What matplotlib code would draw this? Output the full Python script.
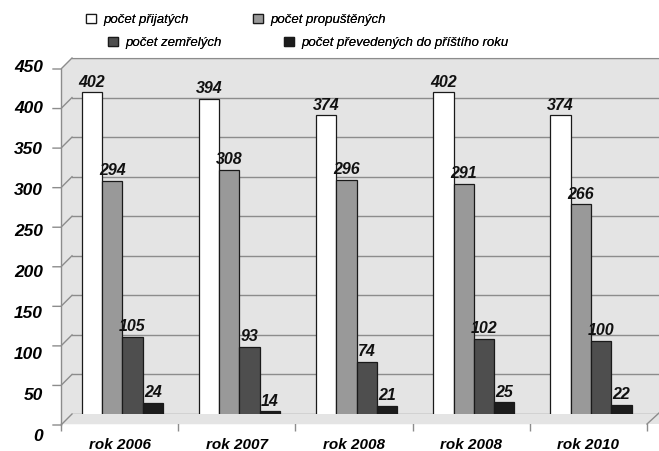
import matplotlib
matplotlib.use("Agg")
import matplotlib.pyplot as plt
from matplotlib.patches import Polygon
from matplotlib.lines import Line2D
import numpy as np

categories = ["rok 2006", "rok 2007", "rok 2008", "rok 2008", "rok 2010"]
series_names = ["počet přijatých", "počet propuštěných", "počet zemřelých",
                "počet převedených do příštího roku"]
prijatych = [402, 394, 374, 402, 374]
propustenych = [294, 308, 296, 291, 266]
zemrelych = [105, 93, 74, 102, 100]
prevedenych = [24, 14, 21, 25, 22]
yticks = list(range(0, 451, 50))

series = [prijatych, propustenych, zemrelych, prevedenych]
colors = ["#ffffff", "#999999", "#4e4e4e", "#1c1c1c"]

FONT = ["Liberation Sans", "DejaVu Sans"]
plt.rcParams["font.family"] = FONT

W, H = 659, 451
fig = plt.figure(figsize=(W / 100, H / 100), dpi=100)
fig.patch.set_facecolor("white")

WALL = "#e4e4e4"
GRID = "#8c8c8c"


def rect(x0, x1, ytop, ybot):
    return [x0 / W, 1 - ybot / H, (x1 - x0) / W, (ybot - ytop) / H]


def fr(x, y):
    return (x / W, 1 - y / H)


# back wall
ax_wall = fig.add_axes(rect(72, 720, 58, 414))
ax_wall.set_facecolor(WALL)
ax_wall.set_ylim(0, 450)
ax_wall.set_xlim(0, 1)
ax_wall.set_yticks(yticks)
ax_wall.set_xticks([])
ax_wall.tick_params(left=False, labelleft=False)
ax_wall.grid(axis="y", color=GRID, linewidth=1.0)
for s in ["left", "right", "bottom"]:
    ax_wall.spines[s].set_visible(False)
ax_wall.spines["top"].set_color(GRID)
ax_wall.set_zorder(0)

# side wall and floor
side = Polygon([fr(61, 69), fr(72, 58), fr(72, 414), fr(61, 424)], closed=True,
               transform=fig.transFigure, facecolor=WALL, edgecolor="none", zorder=0)
floor = Polygon([fr(61, 424), fr(72, 414), fr(720, 414), fr(708, 424)], closed=True,
                transform=fig.transFigure, facecolor=WALL, edgecolor="none", zorder=0)
fig.patches.extend([side, floor])
fig.lines.append(Line2D([61 / W, 61 / W], [1 - 425 / H, 1 - 69 / H],
                        transform=fig.transFigure, color=GRID, lw=1.0))
fig.lines.append(Line2D([647 / W, 659 / W], [1 - 424 / H, 1 - 413 / H],
                        transform=fig.transFigure, color=GRID, lw=1.0))

# tick diagonals
for v in yticks:
    wy = ax_wall.transData.transform((0, v))[1] / H
    dy = 11 / H
    fig.lines.append(Line2D([53 / W, 61 / W, 72 / W], [wy - dy, wy - dy, wy],
                            transform=fig.transFigure, color=GRID, lw=1.0))

# label axis
ax_lab = fig.add_axes(rect(61, 647, 66, 435))
ax_lab.set_ylim(0, 450)
ax_lab.set_yticks(yticks)
ax_lab.set_yticklabels([str(v) for v in yticks], fontsize=12.5,
                       fontweight="bold", fontstyle="italic")
ax_lab.tick_params(axis="y", length=0, pad=13)
ax_lab.set_xticks([])
ax_lab.patch.set_visible(False)
for s in ax_lab.spines.values():
    s.set_visible(False)

# bar axis
ax = fig.add_axes(rect(61, 647, 53, 423))
ax.patch.set_visible(False)
ax.set_xlim(-0.5, 4.5)
ax.set_ylim(0, 450)
x = np.arange(len(categories))
bw = 0.173
start = -0.5 + 0.263
for k, (vals, c, name) in enumerate(zip(series, colors, series_names)):
    bars = ax.bar(x + start + k * bw, vals, width=bw, color=c, edgecolor="#1a1a1a",
                  linewidth=0.9, label=name, zorder=3)
    ax.bar_label(bars, padding=2, fontsize=11.5, fontweight="bold",
                 fontstyle="italic", color="#111111")
ax.set_yticks([])
ax.set_xticks(x)
ax.set_xticklabels(categories, fontsize=11, fontweight="bold", fontstyle="italic")
ax.tick_params(axis="x", length=0, pad=11)
ax.set_xticks(np.arange(-0.5, 5, 1), minor=True)
ax.tick_params(axis="x", which="minor", length=6, color=GRID, width=1.0)
for s in ["left", "right", "top"]:
    ax.spines[s].set_visible(False)
ax.spines["bottom"].set_color(GRID)

# legend entries
handles, labels = ax.get_legend_handles_labels()
positions = [(86, 20), (253, 20), (108, 43), (284, 43)]
for h, l, (px, py) in zip(handles, labels, positions):
    lg = fig.legend([h], [l], loc="center left", bbox_to_anchor=fr(px, py),
                    frameon=False, borderpad=0, borderaxespad=0,
                    handlelength=0.75, handleheight=0.75, handletextpad=0.55,
                    prop={"family": FONT, "style": "italic", "size": 9.5})
    fig.add_artist(lg)

fig.savefig("out.png", dpi=100)
